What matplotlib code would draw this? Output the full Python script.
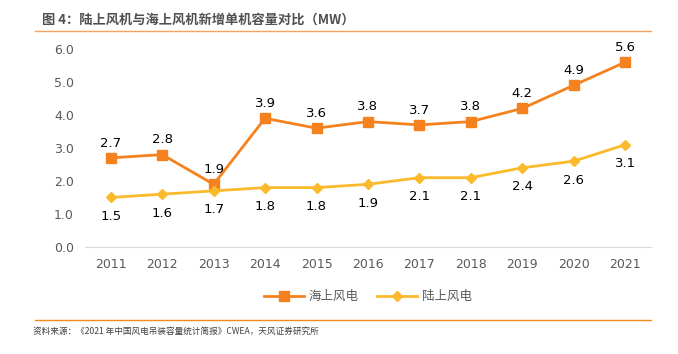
import matplotlib
matplotlib.use("Agg")
import matplotlib.pyplot as plt

plt.rcParams['font.family'] = ['Noto Sans CJK SC', 'DejaVu Sans']

years = ["2011", "2012", "2013", "2014", "2015", "2016", "2017", "2018", "2019", "2020", "2021"]
offshore = [2.7, 2.8, 1.9, 3.9, 3.6, 3.8, 3.7, 3.8, 4.2, 4.9, 5.6]
onshore = [1.5, 1.6, 1.7, 1.8, 1.8, 1.9, 2.1, 2.1, 2.4, 2.6, 3.1]

OFF_COL = "#F5821F"
ON_COL = "#FBBA2B"
TICK_COL = "#595959"

fig = plt.figure(figsize=(6.78, 3.54), dpi=100)
ax = fig.add_axes([0.1254, 0.3023, 0.8346, 0.5593])

x = list(range(len(years)))
ax.plot(x, offshore, color=OFF_COL, linewidth=2, marker="s", markersize=6.5, label="海上风电")
ax.plot(x, onshore, color=ON_COL, linewidth=2, marker="D", markersize=5.5, label="陆上风电")

for i, v in enumerate(offshore):
    ax.annotate(f"{v:.1f}", (i, v), xytext=(0, 6), textcoords="offset points",
                ha="center", va="bottom", fontsize=9.5, color="#000000", family=["DejaVu Sans"])
for i, v in enumerate(onshore):
    ax.annotate(f"{v:.1f}", (i, v), xytext=(0, -9), textcoords="offset points",
                ha="center", va="top", fontsize=9.5, color="#000000", family=["DejaVu Sans"])

ax.set_xlim(-0.5, len(years) - 0.5)
ax.set_ylim(0, 6)
ax.set_xticks(x)
ax.set_xticklabels(years)
ax.set_yticks([0, 1, 2, 3, 4, 5, 6])
ax.set_yticklabels([f"{t:.1f}" for t in range(7)])
ax.tick_params(length=0, colors=TICK_COL, labelsize=9, pad=8)
for lab in ax.get_xticklabels() + ax.get_yticklabels():
    lab.set_family(["DejaVu Sans"])
for s in ["top", "right", "left"]:
    ax.spines[s].set_visible(False)
ax.spines["bottom"].set_color("#D9D9D9")

ax.legend(loc="upper center", bbox_to_anchor=(0.5, -0.16), ncol=2, frameon=False,
          fontsize=9, labelcolor=TICK_COL, handlelength=3.2, handletextpad=0.4,
          columnspacing=1.5)

fig.text(0.062, 0.945, "图 4：陆上风机与海上风机新增单机容量对比（MW）", fontsize=9.5,
         fontweight="bold", color="#505050", va="center")
fig.add_artist(plt.Line2D([0.052, 0.96], [0.912, 0.912], color="#F4A460", linewidth=1))
fig.add_artist(plt.Line2D([0.052, 0.96], [0.097, 0.097], color="#F28A1C", linewidth=1))
fig.text(0.049, 0.063, "资料来源：《2021 年中国风电吊装容量统计简报》CWEA，天风证券研究所", fontsize=6.2,
         color="#404040", va="center")

fig.savefig("out.png", dpi=100)
